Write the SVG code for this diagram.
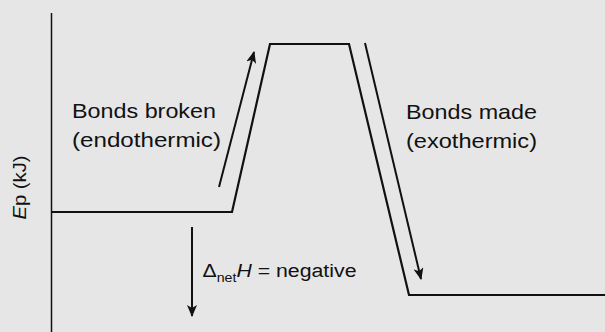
<svg xmlns="http://www.w3.org/2000/svg" width="605" height="332" viewBox="0 0 605 332">
<style>
text{font-family:"Liberation Sans",Arial,Helvetica,sans-serif;fill:#111}
.lbl{font-size:21px}
.ln{fill:none;stroke:#111;stroke-width:2.2}
.ar{fill:none;stroke:#111;stroke-width:2}
</style>
<defs>
<marker id="ah" markerWidth="12" markerHeight="10" viewBox="0 0 12 10" refX="11" refY="5" orient="auto" markerUnits="userSpaceOnUse">
<path d="M0,0 L12,5 L0,10 L3,5 Z" fill="#111"/>
</marker>
</defs>
<rect width="605" height="332" fill="#e6e6e6"/>
<g id="axis">
<line x1="51.5" y1="13" x2="51.5" y2="332" stroke="#111" stroke-width="1.5"/>
<text transform="translate(25.5,187.5) rotate(-90)" text-anchor="middle" font-size="18" textLength="64" lengthAdjust="spacingAndGlyphs"><tspan font-style="italic">E</tspan>p (kJ)</text>
</g>
<g id="profile">
<polyline class="ln" points="51,212 232,212 270,44 349,44 409,295 605,295"/>
</g>
<g id="connectors">
<line class="ar" x1="219" y1="187" x2="254" y2="52" marker-end="url(#ah)"/>
<line class="ar" x1="365" y1="43" x2="421" y2="279" marker-end="url(#ah)"/>
<line class="ar" x1="192" y1="227" x2="192" y2="316" marker-end="url(#ah)"/>
</g>
<g id="label-broken">
<text class="lbl" x="72" y="118" textLength="144" lengthAdjust="spacingAndGlyphs">Bonds broken</text>
<text class="lbl" x="72" y="147" textLength="149" lengthAdjust="spacingAndGlyphs">(endothermic)</text>
</g>
<g id="label-made">
<text class="lbl" x="406" y="119" textLength="131" lengthAdjust="spacingAndGlyphs">Bonds made</text>
<text class="lbl" x="406" y="148" textLength="131" lengthAdjust="spacingAndGlyphs">(exothermic)</text>
</g>
<g id="label-delta">
<text x="202.5" y="277" font-size="18" textLength="154" lengthAdjust="spacingAndGlyphs">Δ<tspan font-size="12" dy="5">net</tspan><tspan font-style="italic" dy="-5">H</tspan> = negative</text>
</g>
</svg>
